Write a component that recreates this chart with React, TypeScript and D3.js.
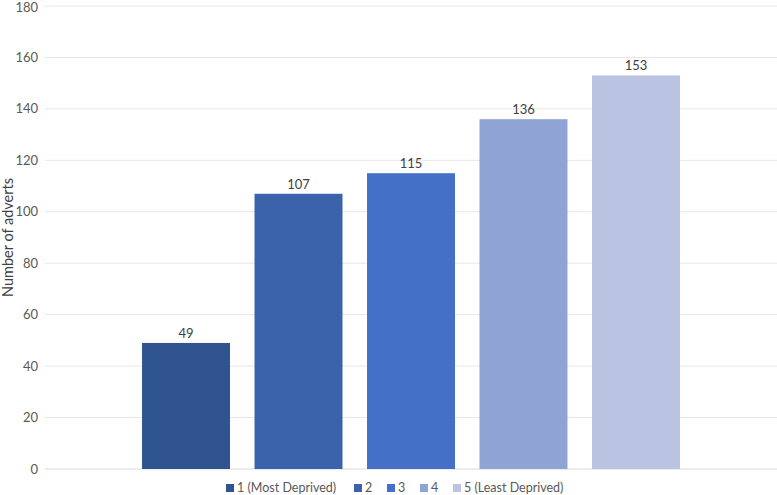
import React from "react";
import * as d3 from "d3";

const series = ["1 (Most Deprived)", "2", "3", "4", "5 (Least Deprived)"];
const values = [49, 107, 115, 136, 153];
const colors = ["#30548F", "#3B63AC", "#4471C7", "#8FA4D4", "#BAC4E2"];
const yTicks = [0, 20, 40, 60, 80, 100, 120, 140, 160, 180];
const yLabel = "Number of adverts";

const W = 777, H = 495;
const FONT = "Lato, 'Liberation Sans', sans-serif";

export default function App() {
  const y = d3.scaleLinear().domain([0, 180]).range([469, 6]);
  const outer = d3.scaleBand<string>().domain(["all"]).range([45, 777]).paddingOuter(0.1507);
  const x = d3.scaleBand<string>().domain(series)
    .range([outer("all")!, outer("all")! + outer.bandwidth()])
    .paddingInner(0.218).paddingOuter(0.109);

  const legendX = [226, 354, 387, 420, 453];
  return (
    <svg width={W} height={H} style={{ position: "absolute", left: 0, top: 0, background: "#fff" }} fontFamily={FONT}>
      {yTicks.map(t => (
        <g key={t}>
          <line x1={45} x2={777} y1={y(t)} y2={y(t)} stroke={t === 0 ? "#D9D9D9" : "#E6E6E6"} strokeWidth={1} />
          <text x={38} y={Math.max(y(t), 7)} dy="0.35em" textAnchor="end" fontSize={13} fill="#595959">{t}</text>
        </g>
      ))}
      <text transform={`translate(8,${y(90)}) rotate(-90)`} textAnchor="middle" dy="0.35em" fontSize={14.5} fill="#404040">{yLabel}</text>
      {series.map((s, i) => (
        <g key={s}>
          <rect x={x(s)} y={y(values[i])} width={x.bandwidth()} height={y(0) - y(values[i])} fill={colors[i]} />
          <text x={x(s)! + x.bandwidth() / 2} y={y(values[i]) - 5} textAnchor="middle" fontSize={13} fill="#404040">{values[i]}</text>
        </g>
      ))}
      {series.map((s, i) => (
        <g key={"l" + s}>
          <rect x={legendX[i]} y={484} width={8} height={8} fill={colors[i]} />
          <text x={legendX[i] + 11} y={488} dy="0.35em" fontSize={12.5} fill="#595959">{s}</text>
        </g>
      ))}
    </svg>
  );
}
